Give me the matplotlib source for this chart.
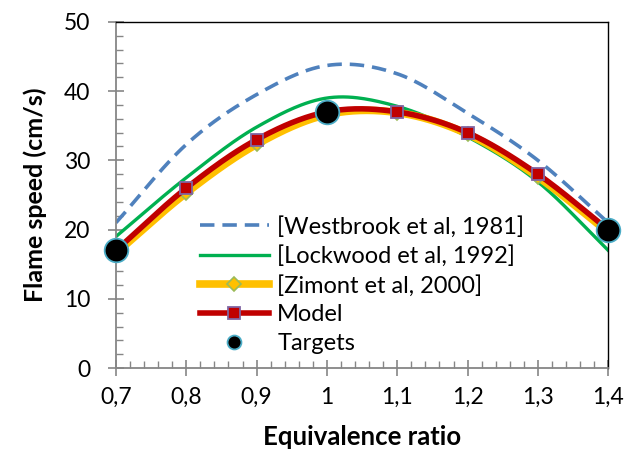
import numpy as np
import matplotlib
matplotlib.use("Agg")
import matplotlib.pyplot as plt
from matplotlib.ticker import MultipleLocator, FuncFormatter

plt.rcParams['font.family'] = ['Lato', 'DejaVu Sans']

# data
phi = [0.7, 0.8, 0.9, 1.0, 1.1, 1.2, 1.3, 1.4]
westbrook = [21.0, 32.3, 39.5, 43.7, 42.5, 36.8, 30.0, 21.0]
lockwood = [19.0, 27.5, 34.8, 39.0, 37.8, 33.4, 26.9, 17.0]
zimont = [16.6, 25.3, 32.3, 36.6, 36.9, 33.8, 27.6, 19.6]
model = [17.0, 26.0, 33.0, 37.0, 37.0, 34.0, 28.0, 20.0]
target_phi = [0.7, 1.0, 1.4]
targets = [17.0, 37.0, 20.0]


def smooth(x, y, n=30):
    # Catmull-Rom curve through the points, like Excel's smoothed line
    x = np.asarray(x, float)
    y = np.asarray(y, float)
    px = np.concatenate([[2 * x[0] - x[1]], x, [2 * x[-1] - x[-2]]])
    py = np.concatenate([[2 * y[0] - y[1]], y, [2 * y[-1] - y[-2]]])
    xs, ys = [], []
    t = np.linspace(0, 1, n, endpoint=False)
    for i in range(1, len(px) - 2):
        for p, out in ((px, xs), (py, ys)):
            p0, p1, p2, p3 = p[i - 1], p[i], p[i + 1], p[i + 2]
            out.extend(0.5 * (2 * p1 + (-p0 + p2) * t
                              + (2 * p0 - 5 * p1 + 4 * p2 - p3) * t ** 2
                              + (-p0 + 3 * p1 - 3 * p2 + p3) * t ** 3))
    xs.append(x[-1])
    ys.append(y[-1])
    return np.array(xs), np.array(ys)


fig = plt.figure(figsize=(6.27, 4.55), dpi=100)
ax = fig.add_axes([0.185, 0.191, 0.785, 0.761])

ax.plot(*smooth(phi, westbrook), color='#4F81BD', lw=2.6, ls=(0, (4, 2.2)),
        label='[Westbrook et al, 1981]')
ax.plot(*smooth(phi, lockwood), color='#00B050', lw=2.4,
        label='[Lockwood et al, 1992]')
ax.plot(*smooth(phi, zimont), color='#FFC000', lw=5.5, solid_capstyle='round')
ax.plot(phi, zimont, ls='none', marker='D', ms=7, mfc='#FFC000', mec='#9BBB59', mew=1.2)
ax.plot(*smooth(phi, model), color='#C00000', lw=4.0, solid_capstyle='round')
ax.plot(phi, model, ls='none', marker='s', ms=9, mfc='#C00000', mec='#8064A2', mew=1.3)
ax.plot(target_phi, targets, ls='none', marker='o', ms=17, mfc='black',
        mec='#4BACC6', mew=1.3, clip_on=False, zorder=5)

# legend proxies
h = [
    plt.Line2D([], [], color='#4F81BD', lw=2.6, ls=(0, (4, 2.2))),
    plt.Line2D([], [], color='#00B050', lw=2.4),
    plt.Line2D([], [], color='#FFC000', lw=5.5, marker='D', ms=7, mfc='#FFC000',
               mec='#9BBB59', mew=1.2),
    plt.Line2D([], [], color='#C00000', lw=4.0, marker='s', ms=9, mfc='#C00000',
               mec='#8064A2', mew=1.3),
    plt.Line2D([], [], ls='none', marker='o', ms=10, mfc='black', mec='#4BACC6', mew=1.3),
]
labels = ['[Westbrook et al, 1981]', '[Lockwood et al, 1992]',
          '[Zimont et al, 2000]', 'Model', 'Targets']
ax.legend(h, labels, loc='lower left', bbox_to_anchor=(0.171, 0.04), frameon=False,
          fontsize=17, handlelength=2.9, handletextpad=0.36, labelspacing=0.33,
          borderaxespad=0, borderpad=0)

ax.set_xlim(0.7, 1.4)
ax.set_ylim(0, 50)
ax.xaxis.set_major_locator(MultipleLocator(0.1))
ax.xaxis.set_minor_locator(MultipleLocator(0.02))
ax.yaxis.set_major_locator(MultipleLocator(10))
ax.yaxis.set_minor_locator(MultipleLocator(2))
fmt = FuncFormatter(lambda v, p: f"{round(v, 2):g}".replace('.', ','))
ax.xaxis.set_major_formatter(fmt)
ax.yaxis.set_major_formatter(fmt)

ax.tick_params(which='major', direction='inout', length=11, width=1.2,
               color='#868686', labelsize=16.5)
ax.tick_params(axis='x', which='major', pad=8)
ax.tick_params(axis='y', which='major', pad=13)
ax.tick_params(which='minor', direction='in', length=5, width=1.0, color='#868686')
for s in ('left', 'bottom'):
    ax.spines[s].set_color('#868686')
    ax.spines[s].set_linewidth(1.3)
for s in ('top', 'right'):
    ax.spines[s].set_color('black')
    ax.spines[s].set_linewidth(1.0)

ax.set_xlabel('Equivalence ratio', fontsize=18.5, fontweight='bold', labelpad=12)
ax.set_ylabel('Flame speed (cm/s)', fontsize=18, fontweight='bold', labelpad=12)

fig.savefig('out.png', dpi=100)
